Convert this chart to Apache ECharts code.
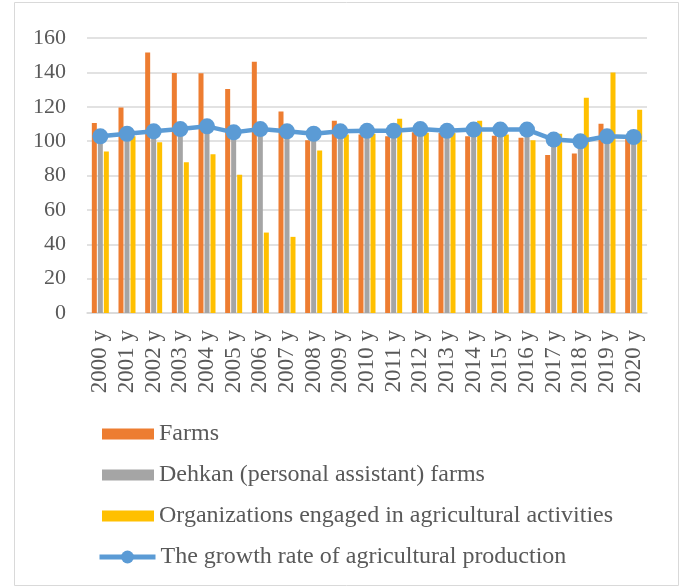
<!DOCTYPE html>
<html>
<head>
<meta charset="utf-8">
<script src="https://cdn.jsdelivr.net/npm/echarts@6/dist/echarts.min.js"></script>
<style>
html,body{margin:0;padding:0;background:#fff;}
#c{width:682px;height:587px;}
</style>
</head>
<body>
<div id="c"></div>
<script>
var categories = ['2000 y','2001 y','2002 y','2003 y','2004 y','2005 y','2006 y','2007 y','2008 y','2009 y','2010 y','2011 y','2012 y','2013 y','2014 y','2015 y','2016 y','2017 y','2018 y','2019 y','2020 y'];
var farms = [110.5, 119.5, 151.5, 139.7, 139.5, 130.4, 146.2, 117.3, 100.5, 111.9, 103.8, 102.8, 105.1, 104.7, 102.8, 103.2, 102.0, 92.0, 92.8, 110.1, 102.0];
var dehkan = [102, 103, 104.5, 106, 107, 104, 106, 105, 103.5, 105, 105, 105, 106, 105, 105.5, 105.5, 105.5, 100, 99, 102, 101.5];
var organizations = [93.9, 102.8, 99.3, 87.7, 92.4, 80.4, 46.8, 44.3, 94.5, 103.8, 104.3, 113.0, 104.9, 104.8, 111.9, 103.8, 100.5, 104.3, 125.2, 139.9, 118.3];
var growth = [102.8, 104.3, 105.7, 107.0, 108.6, 105.1, 107.0, 105.7, 104.3, 105.7, 106.0, 106.0, 107.0, 106.0, 106.7, 106.7, 106.7, 100.9, 99.9, 102.8, 102.4];
var yTicks = {min: 0, max: 160, interval: 20};

var FONT = '"Liberation Serif","Times New Roman",serif';
var TXT = '#595959';
var chart = echarts.init(document.getElementById('c'), null, {renderer: 'canvas'});
chart.setOption({
  backgroundColor: '#fff',
  animation: false,
  textStyle: {fontFamily: FONT},
  graphic: [{
    type: 'rect', left: 12, top: 0, shape: {width: 664, height: 583},
    style: {fill: 'none', stroke: '#D9D9D9', lineWidth: 1}, z: -1
  }],
  grid: {left: 87, right: 35, top: 38, bottom: 274, containLabel: false},
  legend: [{
    orient: 'vertical', left: 97, top: 417,
    itemWidth: 52, itemHeight: 11, itemGap: 17,
    textStyle: {fontFamily: FONT, fontSize: 24, color: TXT},
    data: [
      {name: 'Farms', icon: 'rect'},
      {name: 'Dehkan (personal assistant) farms', icon: 'rect'},
      {name: 'Organizations engaged in agricultural activities', icon: 'rect'}
    ]
  }, {
    orient: 'vertical', left: 92, top: 540,
    itemWidth: 56, itemHeight: 16,
    textStyle: {fontFamily: FONT, fontSize: 24, color: TXT},
    data: [
      {name: 'The growth rate of agricultural production',
       lineStyle: {color: '#5B9BD5', width: 5}, itemStyle: {color: '#5B9BD5'}}
    ]
  }],
  xAxis: {
    type: 'category', data: categories,
    axisLine: {lineStyle: {color: '#D9D9D9', width: 1.5}},
    axisTick: {show: false},
    axisLabel: {rotate: 90, fontFamily: FONT, fontSize: 23, color: TXT, margin: 17, interval: 0}
  },
  yAxis: {
    type: 'value', min: yTicks.min, max: yTicks.max, interval: yTicks.interval,
    axisLine: {show: false}, axisTick: {show: false},
    axisLabel: {fontFamily: FONT, fontSize: 22, color: TXT, margin: 21},
    splitLine: {lineStyle: {color: '#D9D9D9', width: 1.5}}
  },
  series: [
    {name: 'Farms', type: 'bar', data: farms, barWidth: 5, barGap: '20%', itemStyle: {color: '#ED7D31'}},
    {name: 'Dehkan (personal assistant) farms', type: 'bar', data: dehkan, barWidth: 5, barGap: '20%', itemStyle: {color: '#A5A5A5'}},
    {name: 'Organizations engaged in agricultural activities', type: 'bar', data: organizations, barWidth: 5, barGap: '20%', itemStyle: {color: '#FFC000'}},
    {name: 'The growth rate of agricultural production', type: 'line', data: growth,
     symbol: 'circle', symbolSize: 16, lineStyle: {color: '#5B9BD5', width: 4.5},
     itemStyle: {color: '#5B9BD5'}, z: 5}
  ]
});
</script>
</body>
</html>
